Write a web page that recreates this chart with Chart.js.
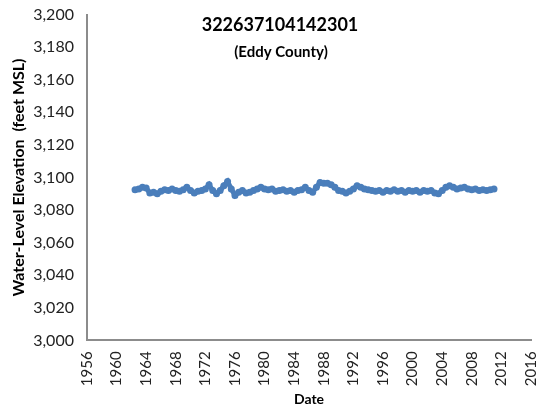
<!DOCTYPE html>
<html>
<head>
<meta charset="utf-8">
<script src="https://cdn.jsdelivr.net/npm/chart.js@4"></script>
<style>
  html, body { margin: 0; padding: 0; background: #ffffff; }
  #wrap { width: 552px; height: 410px; }
</style>
</head>
<body>
<div id="wrap"><canvas id="levelChart" width="552" height="410"></canvas></div>
<script>
// Well id and county for the title
const wellId = '322637104142301';
const county = '(Eddy County)';

// Measurement dates (decimal years)
const dates = [
    1962.5, 1963.0, 1963.5, 1964.0, 1964.5, 1965.0, 1965.5, 1966.0, 1966.5, 1967.0,
    1967.5, 1968.0, 1968.5, 1969.0, 1969.5, 1970.0, 1970.5, 1971.0, 1971.5, 1972.0,
    1972.5, 1973.0, 1973.5, 1974.0, 1974.5, 1975.0, 1975.5, 1976.0, 1976.5, 1977.0,
    1977.5, 1978.0, 1978.5, 1979.0, 1979.5, 1980.0, 1980.5, 1981.0, 1981.5, 1982.0,
    1982.5, 1983.0, 1983.5, 1984.0, 1984.5, 1985.0, 1985.5, 1986.0, 1986.5, 1987.0,
    1987.5, 1988.0, 1988.5, 1989.0, 1989.5, 1990.0, 1990.5, 1991.0, 1991.5, 1992.0,
    1992.5, 1993.0, 1993.5, 1994.0, 1994.5, 1995.0, 1995.5, 1996.0, 1996.5, 1997.0,
    1997.5, 1998.0, 1998.5, 1999.0, 1999.5, 2000.0, 2000.5, 2001.0, 2001.5, 2002.0,
    2002.5, 2003.0, 2003.5, 2004.0, 2004.5, 2005.0, 2005.5, 2006.0, 2006.5, 2007.0,
    2007.5, 2008.0, 2008.5, 2009.0, 2009.5, 2010.0, 2010.5, 2011.0
];

// Water-level elevation (feet MSL)
const levels = [
    3092.5, 3093.0, 3094.0, 3093.5, 3090.5, 3091.0, 3090.0, 3091.5, 3092.5, 3092.0,
    3093.0, 3092.0, 3091.5, 3092.5, 3094.0, 3092.0, 3090.5, 3091.5, 3092.0, 3093.0,
    3095.5, 3092.0, 3090.0, 3092.0, 3095.0, 3097.5, 3093.0, 3089.0, 3091.0, 3092.0,
    3090.5, 3091.0, 3092.0, 3093.0, 3094.0, 3093.0, 3092.5, 3093.0, 3091.5, 3092.0,
    3092.5, 3091.5, 3092.0, 3091.0, 3092.0, 3092.5, 3094.0, 3092.0, 3091.0, 3094.0,
    3097.0, 3096.5, 3096.5, 3095.5, 3094.0, 3092.0, 3091.5, 3090.5, 3091.5, 3093.0,
    3095.0, 3094.0, 3093.0, 3092.5, 3092.0, 3091.5, 3092.0, 3091.0, 3092.0, 3091.5,
    3092.5, 3091.5, 3092.0, 3091.0, 3092.0, 3091.5, 3092.0, 3091.0, 3092.0, 3091.5,
    3092.0, 3090.5, 3090.0, 3092.0, 3094.0, 3095.0, 3094.0, 3093.0, 3093.5, 3094.0,
    3093.0, 3092.5, 3093.0, 3092.0, 3092.5, 3092.0, 3092.5, 3093.0
];

// Axis ranges
const xMin = 1956, xMax = 2016, xStep = 4;
const yMin = 3000, yMax = 3200, yStep = 20;

const fontFamily = 'Lato, "Open Sans", sans-serif';
const axisColor = '#8c8c8c';

// Title drawn over the plot area, like the original
const titlePlugin = {
    id: 'wellTitle',
    afterDraw(chart) {
        const ctx = chart.ctx;
        ctx.save();
        ctx.fillStyle = '#000000';
        ctx.textAlign = 'center';
        ctx.textBaseline = 'middle';
        ctx.font = 'bold 18px ' + fontFamily;
        ctx.fillText(wellId, 280, 25);
        ctx.font = 'bold 15px ' + fontFamily;
        ctx.fillText(county, 281, 52);
        ctx.restore();
    }
};

const levelData = {
    datasets: [{
        label: 'Water level',
        data: dates.map((d, i) => ({ x: d, y: levels[i] })),
        borderColor: '#4a7ebb',
        backgroundColor: '#4a7ebb',
        borderWidth: 5,
        pointRadius: 3.5,
        pointBorderWidth: 0,
        tension: 0,
        fill: false
    }]
};

const levelConfig = {
    type: 'line',
    data: levelData,
    options: {
        responsive: false,
        animation: false,
        layout: { padding: { top: 5, right: 7, left: 9, bottom: 2 } },
        plugins: {
            legend: { display: false },
            tooltip: { enabled: false }
        },
        scales: {
            x: {
                type: 'linear',
                min: xMin,
                max: xMax,
                border: { display: true, color: axisColor, width: 2 },
                grid: { display: false },
                ticks: {
                    stepSize: xStep,
                    minRotation: 90,
                    maxRotation: 90,
                    color: '#222222',
                    font: { family: fontFamily, size: 15 },
                    callback: (v) => String(v)
                },
                title: {
                    display: true,
                    text: 'Date',
                    color: '#000000',
                    font: { family: fontFamily, size: 14, weight: 'bold' },
                    padding: { top: 2, bottom: 0 }
                }
            },
            y: {
                min: yMin,
                max: yMax,
                border: { display: true, color: axisColor, width: 2 },
                grid: { display: false },
                ticks: {
                    stepSize: yStep,
                    color: '#222222',
                    padding: 5,
                    font: { family: fontFamily, size: 16 }
                },
                title: {
                    display: true,
                    text: 'Water-Level Elevation  (feet MSL)',
                    color: '#000000',
                    font: { family: fontFamily, size: 16, weight: 'bold' },
                    padding: { top: 0, bottom: 0 }
                }
            }
        }
    },
    plugins: [titlePlugin]
};

new Chart(document.getElementById('levelChart').getContext('2d'), levelConfig);
</script>
</body>
</html>
